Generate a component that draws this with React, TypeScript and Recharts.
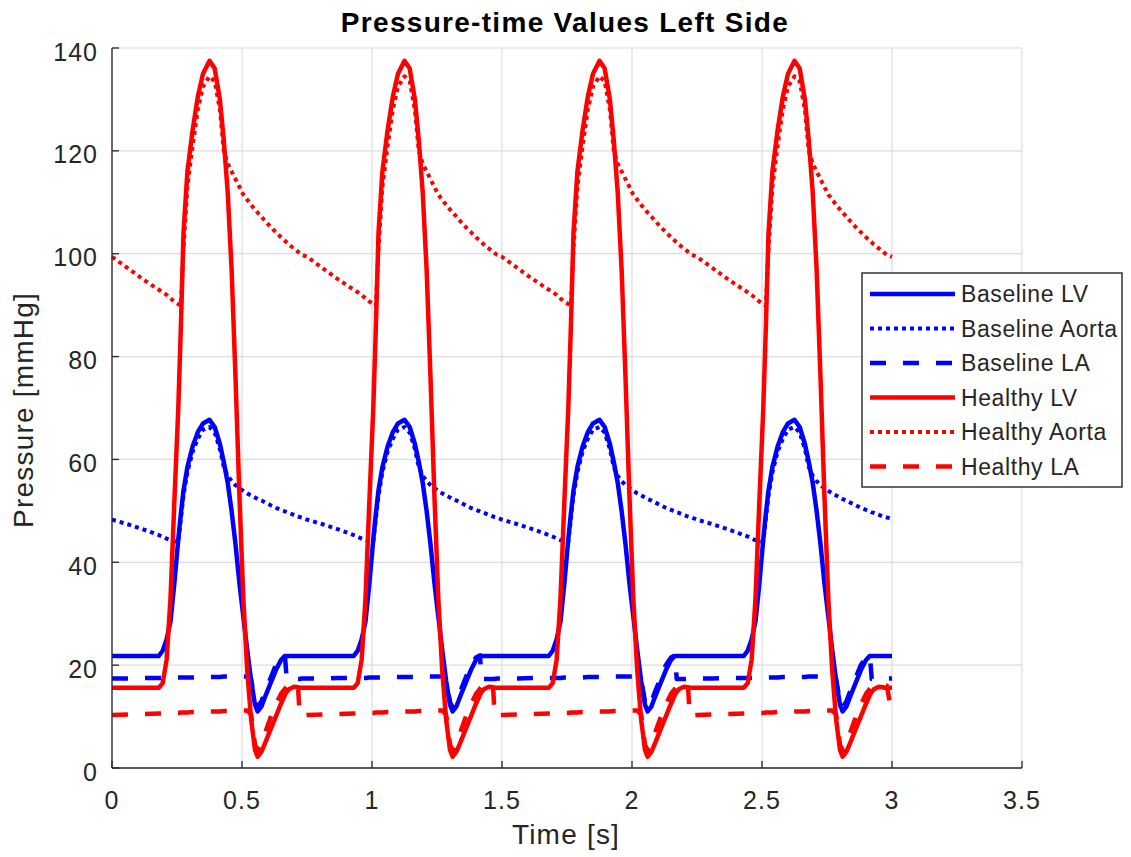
import { CartesianGrid, Line, LineChart, XAxis, YAxis } from "recharts"

// time samples [s], four heart cycles of 0.75 s
const time = [
  0, 0.06, 0.12, 0.18, 0.195, 0.21, 0.225, 0.24, 0.255, 0.265, 0.275, 0.29, 0.31, 0.33, 0.35, 0.375, 0.395, 0.415, 0.43, 0.445, 0.46, 0.475, 0.49, 0.505, 0.52, 0.535, 0.55, 0.56, 0.575, 0.59, 0.61, 0.63, 0.65, 0.665, 0.672, 0.68, 0.7, 0.715, 0.722, 0.73,
  0.75, 0.81, 0.87, 0.93, 0.945, 0.96, 0.975, 0.99, 1.005, 1.015, 1.025, 1.04, 1.06, 1.08, 1.1, 1.125, 1.145, 1.165, 1.18, 1.195, 1.21, 1.225, 1.24, 1.255, 1.27, 1.285, 1.3, 1.31, 1.325, 1.34, 1.36, 1.38, 1.4, 1.415, 1.422, 1.43, 1.45, 1.465, 1.472, 1.48,
  1.5, 1.56, 1.62, 1.68, 1.695, 1.71, 1.725, 1.74, 1.755, 1.765, 1.775, 1.79, 1.81, 1.83, 1.85, 1.875, 1.895, 1.915, 1.93, 1.945, 1.96, 1.975, 1.99, 2.005, 2.02, 2.035, 2.05, 2.06, 2.075, 2.09, 2.11, 2.13, 2.15, 2.165, 2.172, 2.18, 2.2, 2.215, 2.222, 2.23,
  2.25, 2.31, 2.37, 2.43, 2.445, 2.46, 2.475, 2.49, 2.505, 2.515, 2.525, 2.54, 2.56, 2.58, 2.6, 2.625, 2.645, 2.665, 2.68, 2.695, 2.71, 2.725, 2.74, 2.755, 2.77, 2.785, 2.8, 2.81, 2.825, 2.84, 2.86, 2.88, 2.9, 2.915, 2.922, 2.93, 2.95, 2.965, 2.972, 2.98,
  3.0,
]

// pressures [mmHg]
const baselineLv = [
  21.8, 21.8, 21.8, 21.8, 22.8, 25, 28.5, 36, 44.5, 49.5, 54, 58.5, 62.5, 65.3, 67, 67.7, 66.3, 63, 59.5, 55.5, 50, 43.5, 36, 29.5, 23, 17, 12.3, 11, 12, 14, 16.5, 19, 21, 21.8, 21.8, 21.8, 21.8, 21.8, 21.8, 21.8,
  21.8, 21.8, 21.8, 21.8, 22.8, 25, 28.5, 36, 44.5, 49.5, 54, 58.5, 62.5, 65.3, 67, 67.7, 66.3, 63, 59.5, 55.5, 50, 43.5, 36, 29.5, 23, 17, 12.3, 11, 12, 14, 16.5, 19, 21, 21.8, 21.8, 21.8, 21.8, 21.8, 21.8, 21.8,
  21.8, 21.8, 21.8, 21.8, 22.8, 25, 28.5, 36, 44.5, 49.5, 54, 58.5, 62.5, 65.3, 67, 67.7, 66.3, 63, 59.5, 55.5, 50, 43.5, 36, 29.5, 23, 17, 12.3, 11, 12, 14, 16.5, 19, 21, 21.8, 21.8, 21.8, 21.8, 21.8, 21.8, 21.8,
  21.8, 21.8, 21.8, 21.8, 22.8, 25, 28.5, 36, 44.5, 49.5, 54, 58.5, 62.5, 65.3, 67, 67.7, 66.3, 63, 59.5, 55.5, 50, 43.5, 36, 29.5, 23, 17, 12.3, 11, 12, 14, 16.5, 19, 21, 21.8, 21.8, 21.8, 21.8, 21.8, 21.8, 21.8,
  21.8,
]

const baselineAorta = [
  48.3, 47.4, 46.4, 45.3, 45.0, 44.6, 44.3, 44.1, 44.0, 48.5, 53, 57.5, 61.5, 64, 65.8, 66.3, 65.2, 62, 58.5, 56.8, 55.8, 55.0, 54.4, 53.9, 53.4, 53.0, 52.6, 52.3, 52.0, 51.6, 51.1, 50.6, 50.2, 49.9, 49.7, 49.6, 49.2, 48.9, 48.8, 48.7,
  48.3, 47.4, 46.4, 45.3, 45.0, 44.6, 44.3, 44.1, 44.0, 48.5, 53, 57.5, 61.5, 64, 65.8, 66.3, 65.2, 62, 58.5, 56.8, 55.8, 55.0, 54.4, 53.9, 53.4, 53.0, 52.6, 52.3, 52.0, 51.6, 51.1, 50.6, 50.2, 49.9, 49.7, 49.6, 49.2, 48.9, 48.8, 48.7,
  48.3, 47.4, 46.4, 45.3, 45.0, 44.6, 44.3, 44.1, 44.0, 48.5, 53, 57.5, 61.5, 64, 65.8, 66.3, 65.2, 62, 58.5, 56.8, 55.8, 55.0, 54.4, 53.9, 53.4, 53.0, 52.6, 52.3, 52.0, 51.6, 51.1, 50.6, 50.2, 49.9, 49.7, 49.6, 49.2, 48.9, 48.8, 48.7,
  48.3, 47.4, 46.4, 45.3, 45.0, 44.6, 44.3, 44.1, 44.0, 48.5, 53, 57.5, 61.5, 64, 65.8, 66.3, 65.2, 62, 58.5, 56.8, 55.8, 55.0, 54.4, 53.9, 53.4, 53.0, 52.6, 52.3, 52.0, 51.6, 51.1, 50.6, 50.2, 49.9, 49.7, 49.6, 49.2, 48.9, 48.8, 48.7,
  48.5,
]

const baselineLa = [
  17.4, 17.4, 17.5, 17.5, 17.5, 17.5, 17.5, 17.6, 17.6, 17.6, 17.6, 17.6, 17.6, 17.7, 17.7, 17.7, 17.7, 17.7, 17.8, 17.8, 17.8, 17.8, 17.8, 17.8, 17.8, 17.3, 12.8, 11.8, 13, 15, 17.5, 20, 21.5, 21.9, 17.3, 17.3, 17.3, 17.3, 17.3, 17.4,
  17.4, 17.4, 17.5, 17.5, 17.5, 17.5, 17.5, 17.6, 17.6, 17.6, 17.6, 17.6, 17.6, 17.7, 17.7, 17.7, 17.7, 17.7, 17.8, 17.8, 17.8, 17.8, 17.8, 17.8, 17.8, 17.3, 12.8, 11.8, 13, 15, 17.5, 20, 21.5, 21.9, 17.3, 17.3, 17.3, 17.3, 17.3, 17.4,
  17.4, 17.4, 17.5, 17.5, 17.5, 17.5, 17.5, 17.6, 17.6, 17.6, 17.6, 17.6, 17.6, 17.7, 17.7, 17.7, 17.7, 17.7, 17.8, 17.8, 17.8, 17.8, 17.8, 17.8, 17.8, 17.3, 12.8, 11.8, 13, 15, 17.5, 20, 21.5, 21.9, 17.3, 17.3, 17.3, 17.3, 17.3, 17.4,
  17.4, 17.4, 17.5, 17.5, 17.5, 17.5, 17.5, 17.6, 17.6, 17.6, 17.6, 17.6, 17.6, 17.7, 17.7, 17.7, 17.7, 17.7, 17.8, 17.8, 17.8, 17.8, 17.8, 17.8, 17.8, 17.3, 12.8, 11.8, 13, 15, 17.5, 20, 21.5, 21.9, 17.3, 17.3, 17.3, 17.3, 17.3, 17.4,
  17.4,
]

const healthyLv = [
  15.6, 15.6, 15.6, 15.6, 16.5, 21, 33, 52, 70, 86, 104, 116, 124, 130.5, 135, 137.5, 136, 130, 122, 112, 97, 76, 53, 33, 19, 9.5, 3.5, 2.2, 3.2, 5, 7.5, 10, 12.5, 14.2, 14.8, 15.3, 15.8, 15.7, 15.6, 15.6,
  15.6, 15.6, 15.6, 15.6, 16.5, 21, 33, 52, 70, 86, 104, 116, 124, 130.5, 135, 137.5, 136, 130, 122, 112, 97, 76, 53, 33, 19, 9.5, 3.5, 2.2, 3.2, 5, 7.5, 10, 12.5, 14.2, 14.8, 15.3, 15.8, 15.7, 15.6, 15.6,
  15.6, 15.6, 15.6, 15.6, 16.5, 21, 33, 52, 70, 86, 104, 116, 124, 130.5, 135, 137.5, 136, 130, 122, 112, 97, 76, 53, 33, 19, 9.5, 3.5, 2.2, 3.2, 5, 7.5, 10, 12.5, 14.2, 14.8, 15.3, 15.8, 15.7, 15.6, 15.6,
  15.6, 15.6, 15.6, 15.6, 16.5, 21, 33, 52, 70, 86, 104, 116, 124, 130.5, 135, 137.5, 136, 130, 122, 112, 97, 76, 53, 33, 19, 9.5, 3.5, 2.2, 3.2, 5, 7.5, 10, 12.5, 14.2, 14.8, 15.3, 15.8, 15.7, 15.6, 15.6,
  15.6,
]

const healthyAorta = [
  99.4, 97.2, 95.0, 93.0, 92.5, 92.0, 91.3, 90.7, 90.2, 89.9, 101, 113, 121, 128, 132.5, 134.5, 133.5, 128, 120, 117.5, 116, 114.5, 113, 111.5, 110.5, 109.5, 108.6, 108, 107.2, 106.3, 105.2, 104.2, 103.2, 102.5, 102.2, 101.8, 101, 100.4, 100.1, 99.8,
  99.4, 97.2, 95.0, 93.0, 92.5, 92.0, 91.3, 90.7, 90.2, 89.9, 101, 113, 121, 128, 132.5, 134.5, 133.5, 128, 120, 117.5, 116, 114.5, 113, 111.5, 110.5, 109.5, 108.6, 108, 107.2, 106.3, 105.2, 104.2, 103.2, 102.5, 102.2, 101.8, 101, 100.4, 100.1, 99.8,
  99.4, 97.2, 95.0, 93.0, 92.5, 92.0, 91.3, 90.7, 90.2, 89.9, 101, 113, 121, 128, 132.5, 134.5, 133.5, 128, 120, 117.5, 116, 114.5, 113, 111.5, 110.5, 109.5, 108.6, 108, 107.2, 106.3, 105.2, 104.2, 103.2, 102.5, 102.2, 101.8, 101, 100.4, 100.1, 99.8,
  99.4, 97.2, 95.0, 93.0, 92.5, 92.0, 91.3, 90.7, 90.2, 89.9, 101, 113, 121, 128, 132.5, 134.5, 133.5, 128, 120, 117.5, 116, 114.5, 113, 111.5, 110.5, 109.5, 108.6, 108, 107.2, 106.3, 105.2, 104.2, 103.2, 102.5, 102.2, 101.8, 101, 100.4, 100.1, 99.8,
  99.4,
]

const healthyLa = [
  10.3, 10.4, 10.5, 10.6, 10.6, 10.6, 10.7, 10.7, 10.7, 10.8, 10.8, 10.8, 10.9, 10.9, 10.9, 11, 11, 11, 11.1, 11.1, 11.1, 11.1, 11.2, 11.2, 11.2, 10.4, 4.5, 3.5, 4.8, 7, 9.8, 12.3, 14.4, 15.4, 15.8, 16.1, 16.3, 16.2, 10.2, 10.2,
  10.3, 10.4, 10.5, 10.6, 10.6, 10.6, 10.7, 10.7, 10.7, 10.8, 10.8, 10.8, 10.9, 10.9, 10.9, 11, 11, 11, 11.1, 11.1, 11.1, 11.1, 11.2, 11.2, 11.2, 10.4, 4.5, 3.5, 4.8, 7, 9.8, 12.3, 14.4, 15.4, 15.8, 16.1, 16.3, 16.2, 10.2, 10.2,
  10.3, 10.4, 10.5, 10.6, 10.6, 10.6, 10.7, 10.7, 10.7, 10.8, 10.8, 10.8, 10.9, 10.9, 10.9, 11, 11, 11, 11.1, 11.1, 11.1, 11.1, 11.2, 11.2, 11.2, 10.4, 4.5, 3.5, 4.8, 7, 9.8, 12.3, 14.4, 15.4, 15.8, 16.1, 16.3, 16.2, 10.2, 10.2,
  10.3, 10.4, 10.5, 10.6, 10.6, 10.6, 10.7, 10.7, 10.7, 10.8, 10.8, 10.8, 10.9, 10.9, 10.9, 11, 11, 11, 11.1, 11.1, 11.1, 11.1, 11.2, 11.2, 11.2, 10.4, 4.5, 3.5, 4.8, 7, 9.8, 12.3, 14.4, 15.4, 15.8, 16.1, 16.3, 16.2, 16.1, 16.0,
  10.4,
]

const xTicks = [0, 0.5, 1, 1.5, 2, 2.5, 3, 3.5]
const yTicks = [0, 20, 40, 60, 80, 100, 120, 140]

const FONT = '"Liberation Sans", Arial, Helvetica, sans-serif'
const INK = "#262626"
const BLUE = "#0000ff"
const RED = "#ff0000"
const DOTTED = "4 4"
const DASHED = "16 17"

const series = [
  { key: "baselineLv", name: "Baseline LV", color: BLUE, dash: undefined, width: 4.5, values: baselineLv },
  { key: "baselineAorta", name: "Baseline Aorta", color: BLUE, dash: DOTTED, width: 4, values: baselineAorta },
  { key: "baselineLa", name: "Baseline LA", color: BLUE, dash: DASHED, width: 4.5, values: baselineLa },
  { key: "healthyLv", name: "Healthy LV", color: RED, dash: undefined, width: 4.5, values: healthyLv },
  { key: "healthyAorta", name: "Healthy Aorta", color: RED, dash: DOTTED, width: 4, values: healthyAorta },
  { key: "healthyLa", name: "Healthy LA", color: RED, dash: DASHED, width: 4.5, values: healthyLa },
]

const data = time.map((t, i) => {
  const row: Record<string, number> = { t }
  for (const s of series) row[s.key] = s.values[i]
  return row
})

function XTick(props: any) {
  const { x, y, payload } = props
  return (
    <g>
      <line x1={x} x2={x} y1={y} y2={y - 7} stroke={INK} strokeWidth={1.3} />
      <text x={x} y={y + 41} textAnchor="middle" fill={INK} fontSize={25} fontFamily={FONT} letterSpacing={1}>
        {payload.value}
      </text>
    </g>
  )
}

function YTick(props: any) {
  const { x, y, payload } = props
  return (
    <g>
      <line x1={x} x2={x + 7} y1={y} y2={y} stroke={INK} strokeWidth={1.3} />
      <text x={x - 14} y={y + 12.5} textAnchor="end" fill={INK} fontSize={25} fontFamily={FONT} letterSpacing={1}>
        {payload.value}
      </text>
    </g>
  )
}

function LegendBox() {
  return (
    <svg width={262} height={216} style={{ position: "absolute", left: 853, top: 264 }}>
      <rect x={1} y={1} width={260} height={214} fill="#ffffff" stroke={INK} strokeWidth={1.4} />
      {series.map((s, i) => {
        const cy = 22 + i * 34.5
        return (
          <g key={s.key}>
            <line x1={9} x2={94} y1={cy} y2={cy} stroke={s.color} strokeWidth={s.width} strokeDasharray={s.dash} />
            <text x={100} y={cy + 8.2} fill={INK} fontSize={23} fontFamily={FONT} letterSpacing={0.6}>
              {s.name}
            </text>
          </g>
        )
      })}
    </svg>
  )
}

export default function App() {
  return (
    <div style={{ position: "relative", width: 1123, height: 849, background: "#fff" }}>
      <LineChart width={1123} height={849} data={data} margin={{ top: 40, right: 109, bottom: 39, left: 44 }}>
        <CartesianGrid stroke="#dcdcdc" strokeWidth={1.2} />
        <XAxis
          dataKey="t"
          type="number"
          domain={[0, 3.5]}
          ticks={xTicks}
          height={50}
          tickSize={0}
          tickMargin={0}
          tickLine={false}
          axisLine={{ stroke: INK, strokeWidth: 1.3 }}
          tick={<XTick />}
        />
        <YAxis
          type="number"
          domain={[0, 140]}
          ticks={yTicks}
          width={60}
          tickSize={0}
          tickMargin={0}
          tickLine={false}
          axisLine={{ stroke: INK, strokeWidth: 1.3 }}
          tick={<YTick />}
        />
        {series.map((s) => (
          <Line
            key={s.key}
            type="linear"
            dataKey={s.key}
            name={s.name}
            stroke={s.color}
            strokeWidth={s.width}
            strokeDasharray={s.dash}
            strokeLinejoin="round"
            dot={false}
            activeDot={false}
            isAnimationActive={false}
          />
        ))}
      </LineChart>
      <svg width={1123} height={849} style={{ position: "absolute", left: 0, top: 0, pointerEvents: "none" }}>
        <text x={557} y={23.7} textAnchor="middle" fill="#000" fontSize={28} fontWeight="bold" fontFamily={FONT} letterSpacing={1.3}>
          Pressure-time Values Left Side
        </text>
        <text x={558} y={835.5} textAnchor="middle" fill={INK} fontSize={28} fontFamily={FONT} letterSpacing={1.2}>
          Time [s]
        </text>
        <text
          x={25.3}
          y={402}
          transform="rotate(-90 25.3 402)"
          textAnchor="middle"
          fill={INK}
          fontSize={28}
          fontFamily={FONT}
          letterSpacing={1.2}
        >
          Pressure [mmHg]
        </text>
      </svg>
      <LegendBox />
    </div>
  )
}
